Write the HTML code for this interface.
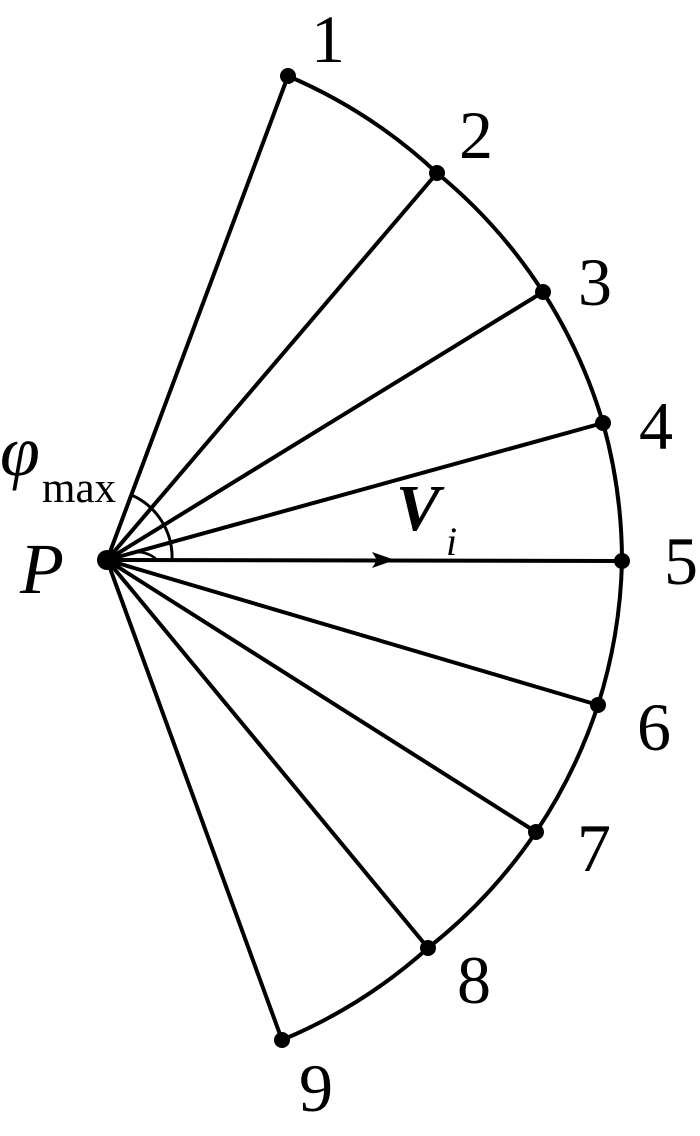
<!DOCTYPE html>
<html><head><style>
html,body{margin:0;padding:0;background:#fff;width:700px;height:1136px;overflow:hidden}
svg text{font-family:"Liberation Serif",serif;fill:#000}
</style></head><body>
<svg width="700" height="1136" viewBox="0 0 700 1136" xmlns="http://www.w3.org/2000/svg">
<g stroke="#000" stroke-width="4" fill="none" stroke-linecap="round">
<path d="M288,76 A515,515 0 0 1 437,173 A515,515 0 0 1 543,292 A515,515 0 0 1 603,423 A515,515 0 0 1 622,561 A515,515 0 0 1 598,705 A515,515 0 0 1 536,832 A515,515 0 0 1 428,948 A515,515 0 0 1 282,1040"/>
<line x1="107" y1="560" x2="288" y2="76"/>
<line x1="107" y1="560" x2="437" y2="173"/>
<line x1="107" y1="560" x2="543" y2="292"/>
<line x1="107" y1="560" x2="603" y2="423"/>
<line x1="107" y1="560" x2="622" y2="561"/>
<line x1="107" y1="560" x2="598" y2="705"/>
<line x1="107" y1="560" x2="536" y2="832"/>
<line x1="107" y1="560" x2="428" y2="948"/>
<line x1="107" y1="560" x2="282" y2="1040"/>
<path d="M131.5,495 A68,68 0 0 1 172,560" stroke-width="3"/>
<path d="M136,552 A30,30 0 0 1 155,558" stroke-width="2.5"/>
</g>
<polygon points="395,560 372,552 377,560 372,568" fill="#000"/>
<g fill="#000">
<circle cx="107" cy="560" r="10"/>
<circle cx="288" cy="76" r="8"/>
<circle cx="437" cy="173" r="8"/>
<circle cx="543" cy="292" r="8"/>
<circle cx="603" cy="423" r="8"/>
<circle cx="622" cy="561" r="8"/>
<circle cx="598" cy="705" r="8"/>
<circle cx="536" cy="832" r="8"/>
<circle cx="428" cy="948" r="8"/>
<circle cx="282" cy="1040" r="8"/>
</g>
<g font-size="68">
<text x="311" y="62">1</text>
<text x="459" y="158">2</text>
<text x="578" y="305">3</text>
<text x="639" y="449">4</text>
<text x="664" y="584">5</text>
<text x="637" y="750">6</text>
<text x="577" y="871">7</text>
<text x="457" y="1003">8</text>
<text x="299" y="1111">9</text>
</g>
<text x="0" y="475" font-size="72" font-style="italic">φ</text>
<text x="42" y="502" font-size="43">max</text>
<text x="20" y="593" font-size="72" font-style="italic">P</text>
<text x="396" y="530" font-size="66" font-style="italic" font-weight="bold">V</text>
<text x="446" y="555" font-size="40" font-style="italic">i</text>
</svg>
</body></html>
